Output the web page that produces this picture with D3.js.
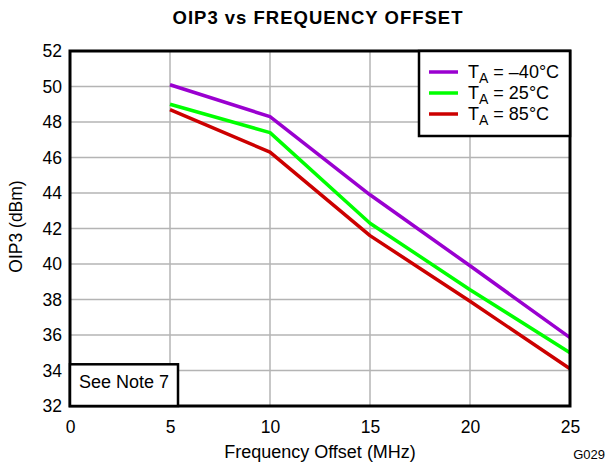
<!DOCTYPE html>
<html>
<head>
<meta charset="utf-8">
<script src="https://cdn.jsdelivr.net/npm/d3@7"></script>
<style>
  body { margin: 0; background: #fff; }
  svg { font-family: "Liberation Sans", Arial, sans-serif; }
</style>
</head>
<body>
<div id="chart"></div>
<script>
// data
var freq = [5, 10, 15, 20, 25];
var oipM40 = [50.1, 48.3, 43.9, 39.9, 35.85];
var oip25 = [49.0, 47.4, 42.3, 38.55, 35.0];
var oip85 = [48.7, 46.3, 41.6, 37.9, 34.1];
var seriesNames = ["\u201340\u00b0C", "25\u00b0C", "85\u00b0C"];
var seriesColors = ["#9a00d0", "#00ff00", "#cc0000"];
var xTicks = [0, 5, 10, 15, 20, 25];
var yTicks = [32, 34, 36, 38, 40, 42, 44, 46, 48, 50, 52];

var margin = { top: 51, right: 36, bottom: 58, left: 70 };
var width = 606 - margin.left - margin.right;
var height = 464 - margin.top - margin.bottom;

var svg = d3.select("#chart").append("svg")
    .attr("width", 606)
    .attr("height", 464);

var g = svg.append("g")
    .attr("transform", "translate(" + margin.left + "," + margin.top + ")");

var x_scale = d3.scaleLinear().domain([0, 25]).range([0, width]);
var y_scale = d3.scaleLinear().domain([32, 52]).range([height, 0]);

// grid
g.append("g").selectAll("line.vg")
    .data(xTicks.slice(1, -1))
    .enter().append("line")
    .attr("x1", function(d) { return x_scale(d); })
    .attr("x2", function(d) { return x_scale(d); })
    .attr("y1", 0).attr("y2", height)
    .style("stroke", "#b4b4b4").style("stroke-width", 1.5);

g.append("g").selectAll("line.hg")
    .data(yTicks.slice(1, -1))
    .enter().append("line")
    .attr("x1", 0).attr("x2", width)
    .attr("y1", function(d) { return y_scale(d); })
    .attr("y2", function(d) { return y_scale(d); })
    .style("stroke", "#b4b4b4").style("stroke-width", 1.5);

// series
var allSeries = [oipM40, oip25, oip85];
var line = d3.line()
    .x(function(d, i) { return x_scale(freq[i]); })
    .y(function(d) { return y_scale(d); });

allSeries.forEach(function(s, i) {
    g.append("path")
        .datum(s)
        .attr("d", line)
        .style("fill", "none")
        .style("stroke", seriesColors[i])
        .style("stroke-width", 3.5)
        .style("stroke-linejoin", "round");
});

// axes (labels only)
var xAxis = g.append("g")
    .attr("transform", "translate(0," + height + ")")
    .call(d3.axisBottom(x_scale).tickValues(xTicks).tickSize(0).tickPadding(15));
var yAxis = g.append("g")
    .call(d3.axisLeft(y_scale).tickValues(yTicks).tickSize(0).tickPadding(8));
[xAxis, yAxis].forEach(function(a) {
    a.select(".domain").remove();
    a.selectAll("text")
        .style("font-size", "17.5px")
        .style("font-family", "'Liberation Sans', Arial, sans-serif")
        .style("fill", "#000");
});

// plot frame
g.append("rect")
    .attr("x", 0).attr("y", 0)
    .attr("width", width).attr("height", height)
    .style("fill", "none")
    .style("stroke", "#000")
    .style("stroke-width", 3);

// legend
var legend = g.append("g");
legend.append("rect")
    .attr("x", x_scale(17.45)).attr("y", 0)
    .attr("width", width - x_scale(17.45)).attr("height", 85)
    .style("fill", "#fff")
    .style("stroke", "#000")
    .style("stroke-width", 2.5);

seriesNames.forEach(function(name, i) {
    var ly = 21 + i * 21;
    legend.append("line")
        .attr("x1", x_scale(17.95)).attr("x2", x_scale(19.4))
        .attr("y1", ly).attr("y2", ly)
        .style("stroke", seriesColors[i])
        .style("stroke-width", 3.5);
    var t = legend.append("text")
        .attr("x", x_scale(19.9))
        .attr("y", ly + 6)
        .style("font-size", "18px");
    t.append("tspan").text("T");
    t.append("tspan").attr("dy", 5).style("font-size", "14px").text("A");
    t.append("tspan").attr("dy", -5).text(" = " + name);
});

// note box
g.append("rect")
    .attr("x", 0).attr("y", y_scale(34.35))
    .attr("width", x_scale(5.4)).attr("height", height - y_scale(34.35))
    .style("fill", "#fff")
    .style("stroke", "#000")
    .style("stroke-width", 2.5);
g.append("text")
    .attr("x", 9).attr("y", y_scale(33.0))
    .style("font-size", "18px")
    .text("See Note 7");

// titles
svg.append("text")
    .attr("x", 318).attr("y", 24)
    .attr("text-anchor", "middle")
    .style("font-size", "18.5px")
    .style("font-weight", "bold")
    .style("letter-spacing", "1px")
    .text("OIP3 vs FREQUENCY OFFSET");

svg.append("text")
    .attr("x", 320).attr("y", 458)
    .attr("text-anchor", "middle")
    .style("font-size", "18px")
    .text("Frequency Offset (MHz)");

svg.append("text")
    .attr("text-anchor", "middle")
    .attr("transform", "translate(22," + (margin.top + height / 2 - 2) + ")rotate(-90)")
    .style("font-size", "17.5px")
    .text("OIP3 (dBm)");

svg.append("text")
    .attr("x", 605).attr("y", 459)
    .attr("text-anchor", "end")
    .style("font-size", "13px")
    .text("G029");
</script>
</body>
</html>
